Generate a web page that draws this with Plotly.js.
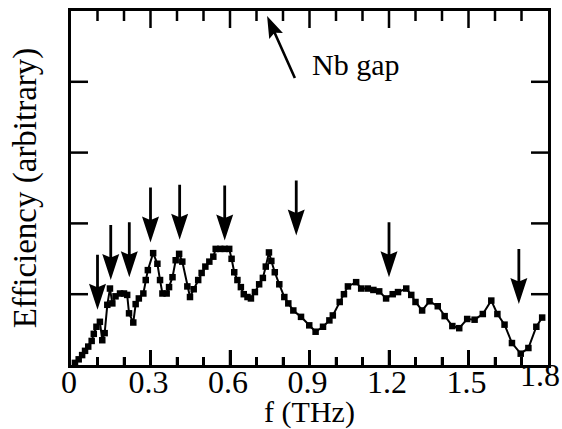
<!DOCTYPE html>
<html><head><meta charset="utf-8">
<script src="https://cdn.plot.ly/plotly-3.0.1.min.js"></script>
<style>html,body{margin:0;padding:0;background:#fff;overflow:hidden;}#chart{width:562px;height:429px;}</style>
</head><body><div id="chart"></div>
<script>
const freq = [0.015,0.029,0.042,0.053,0.065,0.078,0.086,0.096,0.109,0.118,0.127,0.137,0.147,0.156,0.168,0.185,0.200,0.212,0.219,0.235,0.244,0.256,0.273,0.282,0.290,0.310,0.326,0.336,0.345,0.361,0.370,0.383,0.395,0.408,0.420,0.439,0.449,0.463,0.480,0.493,0.507,0.522,0.537,0.546,0.563,0.580,0.597,0.606,0.616,0.628,0.641,0.652,0.666,0.679,0.694,0.710,0.724,0.735,0.747,0.756,0.769,0.786,0.805,0.820,0.839,0.868,0.899,0.923,0.951,0.975,0.988,1.014,1.030,1.045,1.076,1.095,1.120,1.141,1.163,1.189,1.214,1.234,1.265,1.284,1.300,1.325,1.353,1.384,1.410,1.439,1.465,1.495,1.523,1.554,1.586,1.609,1.636,1.664,1.697,1.726,1.756,1.778];
const efficiency = [0.03,0.08,0.14,0.20,0.26,0.34,0.44,0.54,0.61,0.35,0.45,0.85,1.08,0.87,0.97,1.01,1.01,0.99,0.73,0.60,0.86,0.94,1.01,1.20,1.34,1.58,1.43,1.20,1.01,1.01,1.10,1.24,1.48,1.57,1.46,1.11,0.96,1.07,1.20,1.30,1.39,1.46,1.53,1.64,1.64,1.64,1.64,1.50,1.31,1.20,1.10,1.00,0.96,0.94,1.03,1.14,1.23,1.39,1.59,1.47,1.31,1.14,0.96,0.87,0.77,0.68,0.56,0.47,0.54,0.63,0.70,0.89,1.00,1.11,1.17,1.08,1.08,1.06,1.04,0.94,1.00,1.03,1.08,0.99,0.89,0.77,0.90,0.83,0.69,0.55,0.52,0.65,0.64,0.72,0.91,0.72,0.57,0.31,0.16,0.24,0.54,0.67];
const arrowFreq = [0.10,0.15,0.22,0.30,0.41,0.58,0.85,1.20,1.69];
const arrowTip  = [0.78,1.20,1.24,1.73,1.77,1.76,1.83,1.24,0.86];
const gapFreq = 0.74, gapTip = 4.93;
const gapLabel = 'Nb gap', gapLabelFreq = 0.90, gapLabelY = 4.24;
const xTickVals = [0,0.3,0.6,0.9,1.2,1.5,1.8];
const xTickText = ['0','0.3','0.6','0.9','1.2','1.5','1.8'];
const xMinorVals = [0.1,0.2,0.4,0.5,0.7,0.8,1.0,1.1,1.3,1.4,1.6,1.7];
const yTickVals = [1,2,3,4];
const xRange = [0,1.8], yRange = [0,5];
const xTitle = 'f (THz)\u00a0\u00a0\u00a0';
const yTitle = 'Efficiency (arbitrary)';

const W = 562, H = 429, M = {l:70.5,r:14,t:11,b:64};
const pxX = (W-M.l-M.r)/(xRange[1]-xRange[0]);
const pxY = (H-M.t-M.b)/(yRange[1]-yRange[0]);

function arrowPath(len, headLen, headHalf, shaftHalf, angDeg){
  const a = angDeg*Math.PI/180, u=[Math.cos(a),Math.sin(a)], p=[-Math.sin(a),Math.cos(a)];
  const pt=(s,t)=>[s*u[0]+t*p[0], s*u[1]+t*p[1]];
  const pts=[[0,0],pt(headLen,headHalf),pt(headLen-3,shaftHalf),pt(len,shaftHalf),pt(len,-shaftHalf),pt(headLen-3,-shaftHalf),pt(headLen,-headHalf)];
  return 'M'+pts.map(q=>q[0].toFixed(2)+','+q[1].toFixed(2)).join(' L')+' Z';
}
const shapes = arrowFreq.map((f,i)=>({type:'path',xref:'x',yref:'y',xsizemode:'pixel',ysizemode:'pixel',
  xanchor:f,yanchor:arrowTip[i],path:arrowPath(55,26,8.5,1.4,90),fillcolor:'#000',line:{width:0}}));
shapes.push({type:'path',xref:'x',yref:'y',xsizemode:'pixel',ysizemode:'pixel',xanchor:gapFreq,yanchor:gapTip,
  path:arrowPath(68,22,7.5,1.3,-65.9),fillcolor:'#000',line:{width:0}});

// inside tick marks on all four sides, built from the tick arrays
const tx = [], ty = [];
const addX = (v,lenB,lenT)=>{ tx.push(v,v,null,v,v,null); ty.push(yRange[0],yRange[0]+lenB/pxY,null,yRange[1],yRange[1]-lenT/pxY,null); };
xTickVals.slice(1,-1).forEach(v=>addX(v,15,17));
xMinorVals.forEach(v=>addX(v,8,10));
yTickVals.forEach(v=>{ tx.push(xRange[0],xRange[0]+17/pxX,null,xRange[1],xRange[1]-17/pxX,null); ty.push(v,v,null,v,v,null); });

const serif = 'Liberation Serif, Times New Roman, serif';
const data = [
  {x:freq,y:efficiency,type:'scatter',mode:'lines+markers',
   line:{color:'#000',width:2},marker:{symbol:'square',size:6.5,color:'#000'},hoverinfo:'skip'},
  {x:tx,y:ty,type:'scatter',mode:'lines',line:{color:'#000',width:2.5},connectgaps:false,cliponaxis:false,hoverinfo:'skip'}
];
const layout = {
  width:W,height:H,margin:M,
  paper_bgcolor:'#fff',plot_bgcolor:'#fff',showlegend:false,
  font:{family:serif,color:'#000'},
  xaxis:{range:xRange,tickmode:'array',tickvals:xTickVals.slice(0,-1),ticktext:xTickText.slice(0,-1),
    ticks:'inside',ticklen:15,tickwidth:2.5,tickcolor:'#000',
    minor:{tickvals:xMinorVals,ticks:'inside',ticklen:8,tickwidth:2.5,tickcolor:'#000'},
    showline:true,linewidth:3,linecolor:'#000',mirror:true,showgrid:false,zeroline:false,
    ticklabelstandoff:-13,ticklabelshift:-2,
    tickfont:{family:serif,size:32,color:'#000'},
    title:{text:xTitle,font:{family:serif,size:30,color:'#000'},standoff:5}},
  yaxis:{range:yRange,showticklabels:false,ticks:'',
    showline:true,linewidth:3,linecolor:'#000',mirror:true,showgrid:false,zeroline:false,
    title:{text:yTitle,font:{family:serif,size:33,color:'#000'},standoff:22}},
  shapes:shapes,
  annotations:[
    {x:gapLabelFreq,y:gapLabelY,xref:'x',yref:'y',text:gapLabel,showarrow:false,xanchor:'left',yanchor:'middle',
     font:{family:serif,size:30,color:'#000'}},
    {x:xTickVals[6],y:0,xref:'x',yref:'paper',text:xTickText[6],showarrow:false,xanchor:'center',yanchor:'top',
     xshift:-8,yshift:10,font:{family:serif,size:32,color:'#000'}}
  ]
};
Plotly.newPlot('chart',data,layout,{displayModeBar:false});
</script></body></html>
